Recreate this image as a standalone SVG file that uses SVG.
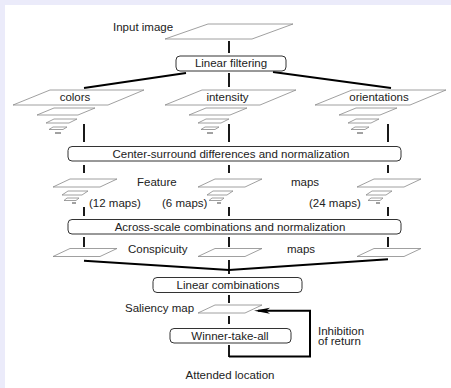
<svg xmlns="http://www.w3.org/2000/svg" xmlns:xlink="http://www.w3.org/1999/xlink" width="451" height="388" viewBox="0 0 451 388">
<style>
text{font-family:"Liberation Sans",Arial,sans-serif;font-size:11.5px;fill:#222}
.m{text-anchor:middle}
.para{fill:#fff;stroke:#888;stroke-width:0.8}
.dash{stroke:#444;stroke-width:1}
.box{fill:#fff;stroke:#333;stroke-width:1}
.thick{stroke:#000;stroke-width:2;fill:none}
.v{stroke:#000;stroke-width:1.8;fill:none}
</style>
<defs>
<polygon id="p1" class="para" points="-14,0 33,0 16,8 -31,8"/>
<g id="fstack">
<use xlink:href="#p1"/>
<polygon class="para" points="-16,12 4,12 -2,16 -22,16"/>
<polygon class="para" points="-17,19 -5,19 -8,21.5 -20,21.5"/>
<line class="dash" x1="-12" y1="24" x2="-8" y2="24"/>
</g>
<g id="pyr">
<polygon class="para" points="37,0 131,0 95,15 0,15"/>
<polygon class="para" points="41,18 82,18 65,25 24,25"/>
<polygon class="para" points="41,29 64,29 56,33 33,33"/>
<polygon class="para" points="40,37 54,37 50,39.5 36,39.5"/>
<line class="dash" x1="42" y1="43" x2="48" y2="43"/>
</g>
<marker id="arr" viewBox="0 0 16 8" refX="12" refY="4" markerWidth="16" markerHeight="8" markerUnits="userSpaceOnUse" orient="auto">
<path d="M16,4 L0,1 L4,4 L0,7 Z" fill="#000"/>
</marker>
</defs>
<rect width="451" height="388" fill="#ebebfa"/>
<rect x="5" y="5" width="446" height="383" fill="#fff"/>

<g id="connectors">
<line class="v" x1="229" y1="41" x2="229" y2="53"/>
<line class="v" x1="229" y1="73" x2="229" y2="87"/>
<line class="thick" x1="186" y1="73" x2="84" y2="88"/>
<line class="thick" x1="273" y1="72" x2="391" y2="88"/>
<line class="v" x1="84" y1="124" x2="84" y2="142"/>
<line class="v" x1="229" y1="124" x2="229" y2="142"/>
<line class="v" x1="388" y1="124" x2="388" y2="142"/>
<line class="v" x1="84" y1="165" x2="84" y2="173"/>
<line class="v" x1="229" y1="165" x2="229" y2="173"/>
<line class="v" x1="388" y1="165" x2="388" y2="173"/>
<line class="v" x1="84" y1="207" x2="84" y2="216"/>
<line class="v" x1="229" y1="207" x2="229" y2="216"/>
<line class="v" x1="388" y1="207" x2="388" y2="216"/>
<line class="v" x1="84" y1="237" x2="84" y2="247"/>
<line class="v" x1="229" y1="237" x2="229" y2="247"/>
<line class="v" x1="388" y1="237" x2="388" y2="247"/>
<polyline class="thick" points="84,260.7 229,270 388,259.3"/>
<line class="v" x1="229" y1="260" x2="229" y2="274"/>
<line class="v" x1="229" y1="295" x2="229" y2="303"/>
<line class="v" x1="229" y1="316" x2="229" y2="324"/>
<line class="v" x1="229" y1="345" x2="229" y2="357"/>
<path class="thick" d="M229,356.5 H310 V310.7 H258" marker-end="url(#arr)"/>
</g>

<g id="input-image">
<polygon class="para" points="208,24 293,24 252,39 165,39"/>
<text x="113" y="31">Input image</text>
</g>
<g id="linear-filtering">
<rect class="box" x="176" y="56" width="110" height="15" rx="4"/>
<text class="m" x="231" y="67">Linear filtering</text>
</g>
<g id="colors">
<use xlink:href="#pyr" x="13" y="90"/>
<text class="m" x="75" y="100.5">colors</text>
</g>
<g id="intensity">
<use xlink:href="#pyr" x="165" y="90"/>
<text class="m" x="227.5" y="100.5">intensity</text>
</g>
<g id="orientations">
<use xlink:href="#pyr" x="315" y="90"/>
<text class="m" x="379" y="100.5">orientations</text>
</g>
<g id="center-surround">
<rect class="box" x="68" y="146.5" width="333" height="14.5" rx="4"/>
<text class="m" x="231" y="157.5">Center-surround differences and normalization</text>
</g>
<g id="feature-maps">
<use xlink:href="#fstack" x="84" y="179"/>
<use xlink:href="#fstack" x="229" y="179"/>
<use xlink:href="#fstack" x="388" y="179"/>
<text x="137" y="186">Feature</text>
<text x="291" y="186">maps</text>
<text x="89" y="206.5">(12 maps)</text>
<text x="162" y="206.5">(6 maps)</text>
<text x="309" y="206.5">(24 maps)</text>
</g>
<g id="across-scale">
<rect class="box" x="68" y="219.5" width="333" height="14.5" rx="4"/>
<text class="m" x="230" y="230.5">Across-scale combinations and normalization</text>
</g>
<g id="conspicuity-maps">
<use xlink:href="#p1" x="84" y="248.5"/>
<use xlink:href="#p1" x="229" y="248.5"/>
<use xlink:href="#p1" x="388" y="248.5"/>
<text x="128" y="252.5">Conspicuity</text>
<text x="287" y="252.5">maps</text>
</g>
<g id="linear-combinations">
<rect class="box" x="153" y="277.5" width="149" height="15" rx="4"/>
<text class="m" x="228" y="288.5">Linear combinations</text>
</g>
<g id="saliency-map">
<use xlink:href="#p1" x="229" y="305"/>
<text x="125" y="311.5">Saliency map</text>
</g>
<g id="winner-take-all">
<rect class="box" x="170" y="328.5" width="121" height="14.5" rx="4"/>
<text class="m" x="230" y="339.5">Winner-take-all</text>
</g>
<g id="inhibition-label">
<text x="318" y="334.5">Inhibition</text>
<text x="318" y="345">of return</text>
</g>
<g id="attended-location">
<text class="m" x="230" y="379">Attended location</text>
</g>
</svg>
